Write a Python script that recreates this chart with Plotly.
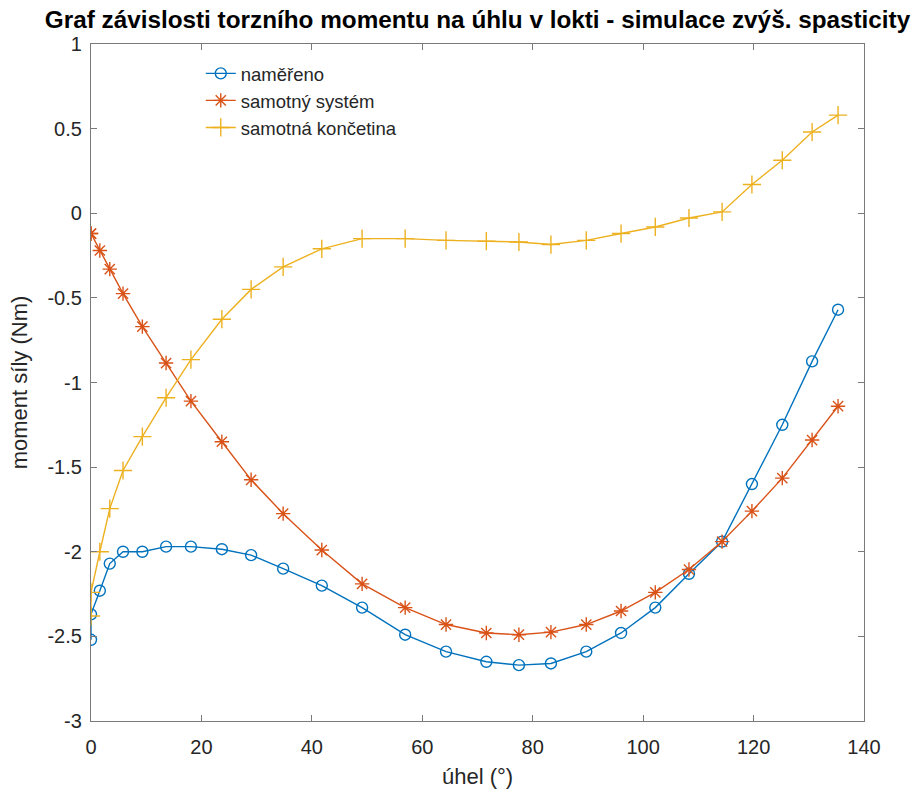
import plotly.graph_objects as go

# elbow angle (deg) and torque (Nm)
uhel = [0, 0, 1.6, 3.4, 5.8, 9.3, 13.6, 18.1, 23.7, 29.0, 34.8, 41.8, 49.1, 56.9,
        64.3, 71.6, 77.5, 83.3, 89.7, 96.0, 102.2, 108.3, 114.3, 119.7, 125.2,
        130.6, 135.3]
namereno = [-2.52, -2.37, -2.23, -2.07, -2.00, -2.00, -1.97, -1.97, -1.985, -2.02,
            -2.10, -2.20, -2.33, -2.49, -2.59, -2.65, -2.67, -2.66, -2.59, -2.48,
            -2.33, -2.13, -1.94, -1.60, -1.25, -0.875, -0.57]
system = [-0.12, -0.12, -0.22, -0.33, -0.475, -0.67, -0.885, -1.11, -1.35, -1.575,
          -1.775, -1.99, -2.19, -2.33, -2.43, -2.48, -2.49, -2.475, -2.43, -2.35,
          -2.24, -2.105, -1.94, -1.76, -1.565, -1.34, -1.14]
koncetina = [-2.38, -2.24, -2.00, -1.745, -1.52, -1.32, -1.09, -0.865, -0.626, -0.45,
             -0.317, -0.21, -0.15, -0.15, -0.16, -0.165, -0.17, -0.185, -0.16, -0.12,
             -0.081, -0.028, 0.008, 0.17, 0.313, 0.48, 0.58]

x_ticks = [0, 20, 40, 60, 80, 100, 120, 140]
y_ticks = [-3, -2.5, -2, -1.5, -1, -0.5, 0, 0.5, 1]
y_tick_text = ["-3", "-2.5", "-2", "-1.5", "-1", "-0.5", "0", "0.5", "1"]

FONT = "Liberation Sans, Arial, sans-serif"
AXIS_COLOR = "#7a7a7a"
TEXT_COLOR = "#262626"

fig = go.Figure()

series = [
    ("naměřeno", namereno, "#0072BD", "circle-open", 11),
    ("samotný systém", system, "#D95319", "asterisk-open", 12),
    ("samotná končetina", koncetina, "#EDB120", "cross-thin-open", 13),
]
for i, (name, vals, color, symbol, size) in enumerate(series):
    fig.add_trace(go.Scatter(
        x=uhel, y=vals, name=name, mode="lines+markers",
        line=dict(color=color, width=1.4),
        marker=dict(symbol=symbol, size=size, color=color,
                    line=dict(color=color, width=1.4)),
        legendgroup=f"g{i}",
    ))

axis_common = dict(
    showline=True, linecolor=AXIS_COLOR, linewidth=1.2, mirror="ticks",
    ticks="inside", ticklen=6, tickcolor=AXIS_COLOR, tickwidth=1.2,
    showgrid=False, zeroline=False, automargin=False,
    tickfont=dict(family=FONT, size=20, color=TEXT_COLOR),
)

fig.update_layout(
    width=924, height=792,
    margin=dict(l=91, r=60, t=44, b=71),
    paper_bgcolor="white", plot_bgcolor="white",
    title=dict(
        text="<b>Graf závislosti torzního momentu na úhlu v lokti - simulace zvýš. spasticity</b>",
        x=0.5168, xanchor="center", y=0.975, yanchor="middle",
        font=dict(family=FONT, size=24.3, color="black"),
    ),
    xaxis=dict(
        range=[0, 140], tickvals=x_ticks,
        title=dict(text="úhel (°)", font=dict(family=FONT, size=22, color=TEXT_COLOR),
                   standoff=11),
        ticklabelstandoff=8,
        **axis_common,
    ),
    yaxis=dict(
        range=[-3, 1], tickvals=y_ticks, ticktext=y_tick_text,
        title=dict(text="moment síly (Nm)", font=dict(family=FONT, size=22, color=TEXT_COLOR),
                   standoff=13),
        ticklabelstandoff=4,
        **axis_common,
    ),
    legend=dict(
        x=0.142, y=0.984, xanchor="left", yanchor="top",
        bgcolor="rgba(255,255,255,0)", borderwidth=0,
        font=dict(family=FONT, size=18.5, color=TEXT_COLOR),
        traceorder="grouped", tracegroupgap=0,
    ),
    showlegend=True,
)

fig.write_html("out.html")
